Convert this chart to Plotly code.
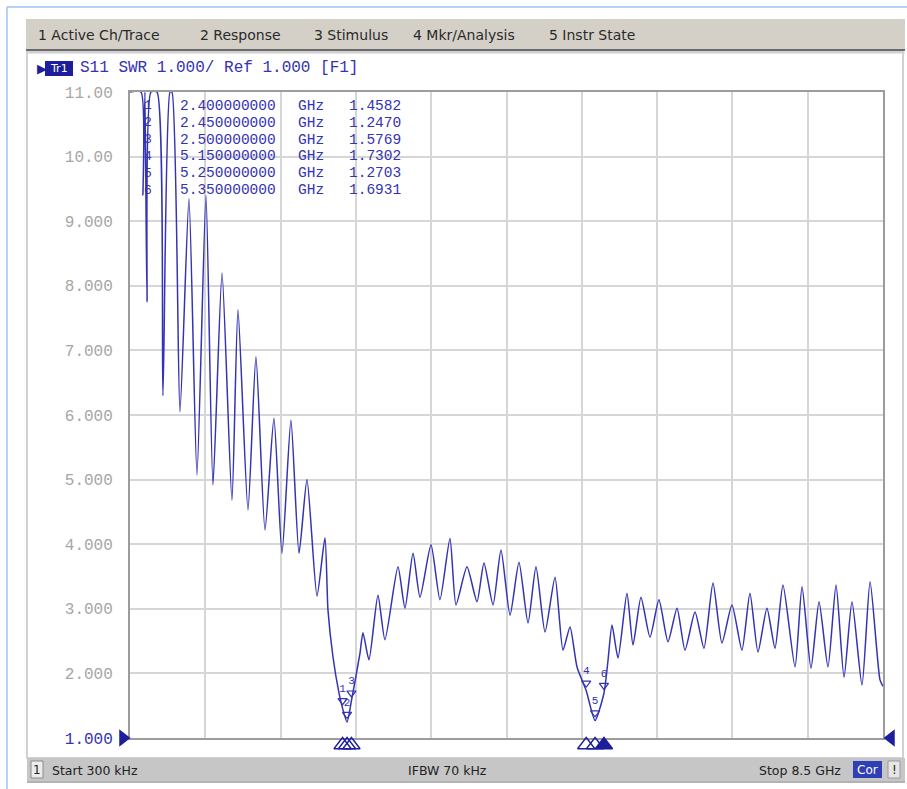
import plotly.graph_objects as go

# ---------------- data ----------------
freq_ghz = [0.0003, 0.124, 0.147, 0.169, 0.192, 0.237, 0.305, 0.372, 0.452, 0.474,
            0.564, 0.666, 0.756, 0.858, 0.937, 1.039, 1.151, 1.219, 1.332, 1.422,
            1.524, 1.625, 1.716, 1.817, 1.908, 1.998, 2.111, 2.201, 2.235, 2.292,
            2.359, 2.40, 2.45, 2.50, 2.596, 2.630, 2.698, 2.799, 2.878, 3.025,
            3.104, 3.195, 3.274, 3.398, 3.499, 3.612, 3.680, 3.804, 3.917, 3.996,
            4.098, 4.188, 4.290, 4.391, 4.493, 4.583, 4.685, 4.798, 4.888, 4.967,
            5.046, 5.15, 5.25, 5.35, 5.396, 5.441, 5.509, 5.610, 5.678, 5.768,
            5.870, 5.971, 6.073, 6.175, 6.265, 6.378, 6.479, 6.581, 6.682, 6.795,
            6.908, 6.998, 7.089, 7.190, 7.281, 7.371, 7.507, 7.586, 7.687, 7.778,
            7.879, 7.970, 8.060, 8.150, 8.263, 8.354, 8.466, 8.5]
swr = [11.0, 11.0, 9.4, 11.0, 7.75, 11.0, 11.0, 6.3, 11.0, 11.0,
       6.05, 9.35, 5.07, 9.4, 4.92, 8.2, 4.68, 7.63, 4.53, 6.9,
       4.22, 5.95, 3.86, 5.92, 3.86, 5.0, 3.2, 4.1, 2.98, 2.25,
       1.70, 1.4582, 1.2470, 1.5769, 2.31, 2.63, 2.21, 3.21, 2.52, 3.65,
       3.01, 3.86, 3.18, 3.99, 3.14, 4.09, 3.06, 3.65, 3.11, 3.71,
       3.06, 3.91, 2.90, 3.72, 2.78, 3.65, 2.64, 3.49, 2.36, 2.72,
       2.10, 1.7302, 1.2703, 1.6931, 2.2, 2.75, 2.24, 3.24, 2.44, 3.18,
       2.56, 3.14, 2.49, 3.01, 2.36, 2.95, 2.39, 3.40, 2.47, 3.06,
       2.36, 3.24, 2.33, 3.01, 2.39, 3.37, 2.10, 3.34, 2.08, 3.11,
       2.10, 3.37, 1.94, 3.11, 1.82, 3.42, 1.90, 1.80]

marker_ids = ["1", "2", "3", "4", "5", "6"]
marker_freqs = [2.40, 2.45, 2.50, 5.15, 5.25, 5.35]
marker_vals = [1.4582, 1.2470, 1.5769, 1.7302, 1.2703, 1.6931]
active_marker = "6"

y_ticks = [1, 2, 3, 4, 5, 6, 7, 8, 9, 10, 11]
y_tick_labels = ["1.000", "2.000", "3.000", "4.000", "5.000", "6.000",
                 "7.000", "8.000", "9.000", "10.00", "11.00"]

menu_items = ["1 Active Ch/Trace", "2 Response", "3 Stimulus", "4 Mkr/Analysis", "5 Instr State"]
title_text = "S11 SWR 1.000/ Ref 1.000 [F1]"
start_text = "Start 300 kHz"
ifbw_text = "IFBW 70 kHz"
stop_text = "Stop 8.5 GHz"

f_start, f_stop = 0.0003, 8.5
y_min, y_max = 1.0, 11.0

# ---------------- styling ----------------
W, H = 907, 789
BLUE = "#3333b4"
DARK_BLUE = "#1e1e9c"
MONO = "Liberation Mono, DejaVu Sans Mono, monospace"
SANS = "DejaVu Sans, Liberation Sans, sans-serif"

PX_L, PX_R, PX_T, PX_B = 130, 883, 92, 738
OV_L, OV_R, OV_B = 110, 903, 760


def X(p):
    return p / W


def Y(p):
    return 1 - p / H


gpp_x = (f_stop - f_start) / (PX_R - PX_L)
upp_y = (y_max - y_min) / (PX_B - PX_T)
ov_xrange = [f_start - (PX_L - OV_L) * gpp_x, f_stop + (OV_R - PX_R) * gpp_x]
ov_yrange = [y_min - (OV_B - PX_B) * upp_y, y_max]

fig = go.Figure()

fig.add_trace(go.Scatter(
    x=freq_ghz, y=swr, mode="lines",
    line=dict(color=BLUE, width=1.5, shape="spline", smoothing=0.6),
    hoverinfo="skip", showlegend=False))

fig.add_trace(go.Scatter(
    x=marker_freqs, y=[v + 0.12 for v in marker_vals], mode="markers+text",
    marker=dict(symbol="triangle-down-open", size=8, color=BLUE, line=dict(width=1.2)),
    text=marker_ids, textposition="top center",
    textfont=dict(family=MONO, size=11, color=BLUE),
    cliponaxis=False, hoverinfo="skip", showlegend=False))

below_y = [y_min - 7 * upp_y] * len(marker_freqs)
fig.add_trace(go.Scatter(
    x=marker_freqs, y=below_y, mode="markers", xaxis="x2", yaxis="y2",
    marker=dict(symbol=["triangle-up" if m == active_marker else "triangle-up-open" for m in marker_ids],
                size=15, color=DARK_BLUE, line=dict(width=1.4, color=DARK_BLUE)),
    hoverinfo="skip", showlegend=False))

fig.add_trace(go.Scatter(
    x=[f_start - 7 * gpp_x, f_stop + 8 * gpp_x], y=[y_min, y_min], mode="markers",
    xaxis="x2", yaxis="y2",
    marker=dict(symbol=["triangle-right", "triangle-left"], size=15, color=DARK_BLUE),
    hoverinfo="skip", showlegend=False))

fig.add_annotation(x=f_stop + 0.05, y=1.8, xref="x", yref="y", text="1", showarrow=False,
                   xanchor="left", font=dict(family=MONO, size=11, color=BLUE))

shapes = []
shapes.append(dict(type="line", xref="paper", yref="paper", x0=X(7), x1=X(907), y0=Y(7), y1=Y(7),
                   line=dict(color="#9cc4f2", width=1.5), layer="below"))
shapes.append(dict(type="line", xref="paper", yref="paper", x0=X(7), x1=X(7), y0=Y(7), y1=Y(789),
                   line=dict(color="#9cc4f2", width=1.5), layer="below"))
shapes.append(dict(type="rect", xref="paper", yref="paper", x0=X(27), x1=X(903), y0=Y(52), y1=Y(758),
                   line=dict(color="#c4c4c4", width=1.5), fillcolor="white", layer="below"))
shapes.append(dict(type="rect", xref="paper", yref="paper", x0=X(26), x1=X(905), y0=Y(19), y1=Y(50),
                   line=dict(width=0), fillcolor="#d4d0c8", layer="below"))
shapes.append(dict(type="line", xref="paper", yref="paper", x0=X(26), x1=X(905), y0=Y(50), y1=Y(50),
                   line=dict(color="#6a6a6a", width=2), layer="below"))
shapes.append(dict(type="line", xref="paper", yref="paper", x0=X(26), x1=X(905), y0=Y(53), y1=Y(53),
                   line=dict(color="#d0d0d0", width=1), layer="below"))
shapes.append(dict(type="rect", xref="paper", yref="paper", x0=X(27), x1=X(905), y0=Y(758), y1=Y(781),
                   line=dict(width=0), fillcolor="#c6c6c6", layer="below"))
shapes.append(dict(type="line", xref="paper", yref="paper", x0=X(27), x1=X(905), y0=Y(782), y1=Y(782),
                   line=dict(color="#9a9a9a", width=1.5), layer="below"))
shapes.append(dict(type="rect", xref="paper", yref="paper", x0=X(31), x1=X(43), y0=Y(761), y1=Y(778),
                   line=dict(color="#8a8a8a", width=1), fillcolor="#ececec", layer="below"))
shapes.append(dict(type="rect", xref="paper", yref="paper", x0=X(853), x1=X(882), y0=Y(761), y1=Y(778),
                   line=dict(width=0), fillcolor="#2f3fb6", layer="below"))
shapes.append(dict(type="rect", xref="paper", yref="paper", x0=X(888), x1=X(900), y0=Y(761), y1=Y(778),
                   line=dict(color="#9a9a9a", width=1), fillcolor="#e6e6e6", layer="below"))
shapes.append(dict(type="rect", xref="paper", yref="paper", x0=X(45), x1=X(73), y0=Y(61), y1=Y(76),
                   line=dict(width=0), fillcolor=DARK_BLUE, layer="below"))
fig.update_layout(shapes=shapes)

ann = []
menu_x = [36, 198, 312, 411, 547]
for mx, mt in zip(menu_x, menu_items):
    ann.append(dict(x=X(mx), y=Y(35), text=mt, xanchor="left", yanchor="middle",
                    font=dict(family=SANS, size=14, color="#2a2a2a")))
ann.append(dict(x=X(35), y=Y(68), text="▶", xanchor="left", yanchor="middle",
                font=dict(family=SANS, size=13, color=DARK_BLUE)))
ann.append(dict(x=X(59), y=Y(68), text="Tr1", xanchor="center", yanchor="middle",
                font=dict(family=SANS, size=11, color="white")))
ann.append(dict(x=X(78), y=Y(68), text=title_text, xanchor="left", yanchor="middle",
                font=dict(family=MONO, size=16, color=BLUE)))

# marker table: number, frequency, unit and value columns
row_y0, row_dy = 106, 16.8
tfont = dict(family=MONO, size=14.5, color=BLUE)
for i, (mid, mf, mv) in enumerate(zip(marker_ids, marker_freqs, marker_vals)):
    yy = row_y0 + i * row_dy
    ann.append(dict(x=X(148), y=Y(yy), text=mid, xanchor="center", yanchor="middle",
                    font=dict(family=MONO, size=13, color=BLUE)))
    ann.append(dict(x=X(178), y=Y(yy), text=f"{mf:.9f}", xanchor="left", yanchor="middle", font=tfont))
    ann.append(dict(x=X(296), y=Y(yy), text="GHz", xanchor="left", yanchor="middle", font=tfont))
    ann.append(dict(x=X(347), y=Y(yy), text=f"{mv:.4f}", xanchor="left", yanchor="middle", font=tfont))

ann.append(dict(x=X(37), y=Y(770), text="1", xanchor="center", yanchor="middle",
                font=dict(family=SANS, size=12, color="#222")))
ann.append(dict(x=X(50), y=Y(770), text=start_text, xanchor="left", yanchor="middle",
                font=dict(family=SANS, size=12.5, color="#222")))
ann.append(dict(x=X(447), y=Y(770), text=ifbw_text, xanchor="center", yanchor="middle",
                font=dict(family=SANS, size=12.5, color="#222")))
ann.append(dict(x=X(843), y=Y(770), text=stop_text, xanchor="right", yanchor="middle",
                font=dict(family=SANS, size=12.5, color="#222")))
ann.append(dict(x=X(867), y=Y(770), text="Cor", xanchor="center", yanchor="middle",
                font=dict(family=SANS, size=12, color="white")))
ann.append(dict(x=X(894), y=Y(770), text="!", xanchor="center", yanchor="middle",
                font=dict(family=SANS, size=12, color="#222")))
for a in ann:
    a.update(xref="paper", yref="paper", showarrow=False)
    fig.add_annotation(**a)

tick_text = [f"<span style='color:{BLUE}'>{t}</span>" if v == y_min else t
             for v, t in zip(y_ticks, y_tick_labels)]

fig.update_layout(
    width=W, height=H, autosize=False,
    margin=dict(l=0, r=0, t=0, b=0),
    paper_bgcolor="white", plot_bgcolor="rgba(0,0,0,0)",
    xaxis=dict(domain=[X(PX_L), X(PX_R)], range=[f_start, f_stop], tick0=f_start,
               dtick=(f_stop - f_start) / 10,
               showticklabels=False, ticks="", showgrid=True, gridcolor="#d6d6d6", gridwidth=2,
               zeroline=False, showline=True, mirror=True, linecolor="#9c9c9c", linewidth=2,
               automargin=False, fixedrange=True),
    yaxis=dict(domain=[Y(PX_B), Y(PX_T)], range=[y_min, y_max], tickvals=y_ticks, ticktext=tick_text,
               ticks="", showgrid=True, gridcolor="#d6d6d6", gridwidth=2, zeroline=False,
               showline=True, mirror=True, linecolor="#9c9c9c", linewidth=2,
               tickfont=dict(family=MONO, size=16, color="#a6a6a6"), ticklabelstandoff=12,
               automargin=False, fixedrange=True),
    xaxis2=dict(domain=[X(OV_L), X(OV_R)], range=ov_xrange, visible=False, anchor="y2",
                fixedrange=True),
    yaxis2=dict(domain=[Y(OV_B), Y(PX_T)], range=ov_yrange, visible=False, anchor="x2",
                fixedrange=True),
    showlegend=False,
)

fig.write_html("out.html")
